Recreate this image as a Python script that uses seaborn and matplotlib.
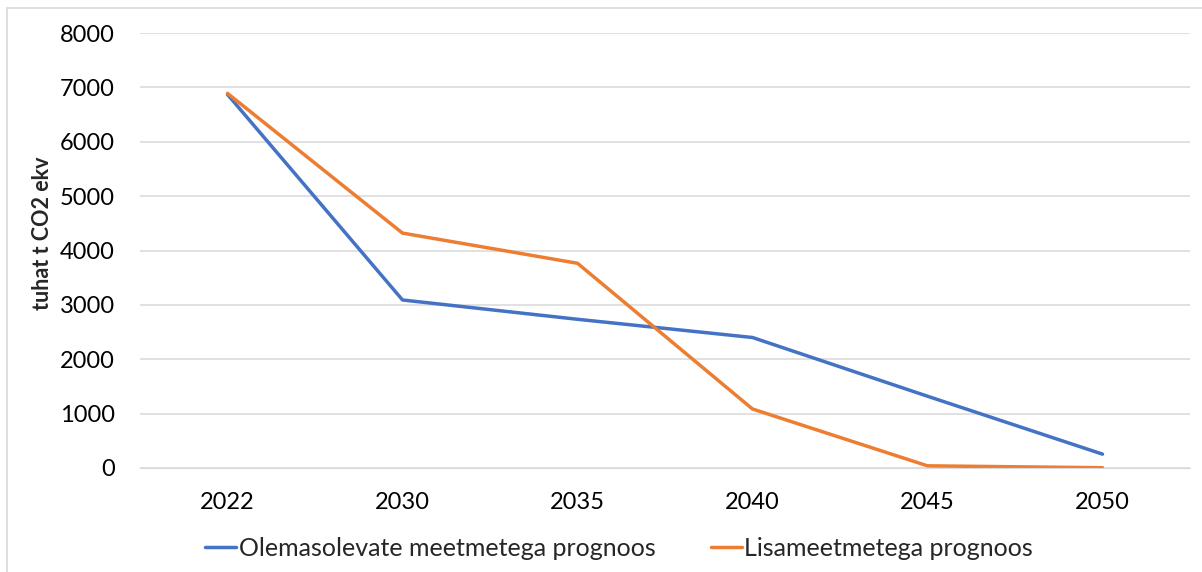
import numpy as np
import pandas as pd
import matplotlib
matplotlib.use('Agg')
import matplotlib.pyplot as plt
import seaborn as sns
from matplotlib.lines import Line2D

## DATA
years = ['2022', '2030', '2035', '2040', '2045', '2050']
olemasolevad = [6870, 3090, 2735, 2400, 1320, 255]   # existing measures
lisameetmed = [6890, 4320, 3765, 1085, 40, 5]         # additional measures
series_names = ['Olemasolevate meetmetega prognoos', 'Lisameetmetega prognoos']
y_ticks = [0, 1000, 2000, 3000, 4000, 5000, 6000, 7000, 8000]
y_label = 'tuhat t CO2 ekv'

colors = ['#4472C4', '#ED7D31']

df = pd.DataFrame({
    'year': years * 2,
    'value': olemasolevad + lisameetmed,
    'series': [series_names[0]] * len(years) + [series_names[1]] * len(years),
})

sns.set_style('white')
plt.rcParams['font.family'] = ['Lato', 'DejaVu Sans']

fig = plt.figure(figsize=(12.02, 5.72), dpi=100)
ax = fig.add_axes([140 / 1202, 1 - 468 / 572, 1050 / 1202, 435 / 572])

sns.lineplot(data=df, x='year', y='value', hue='series', palette=colors,
             sort=False, linewidth=2.5, ax=ax, legend=False)

ax.set_xlim(-0.5, 5.5)
ax.set_ylim(0, 8000)
ax.set_yticks(y_ticks)
ax.set_yticklabels([str(v) for v in y_ticks])
ax.yaxis.grid(True, color='#D9D9D9', linewidth=1.1)
ax.set_axisbelow(True)
for s in ax.spines.values():
    s.set_visible(False)
ax.spines['bottom'].set_visible(True)
ax.spines['bottom'].set_color('#D9D9D9')
ax.tick_params(axis='both', length=0, labelsize=17, colors='#000000')
ax.tick_params(axis='y', pad=18)
ax.tick_params(axis='x', pad=17)
ax.set_xlabel('')
ax.set_ylabel('')

fig.text(43 / 1202, 1 - 233 / 572, y_label, rotation=90, ha='center', va='center',
         fontsize=15.5, fontweight='bold')

handles = [Line2D([], [], color=c, linewidth=2.5) for c in colors]
fig.legend(handles, series_names, loc='center', bbox_to_anchor=(619 / 1202, 1 - 548 / 572),
           ncol=2, frameon=False, fontsize=18, handlelength=1.25,
           handletextpad=0.1, columnspacing=2.2)

# outer chart border (top and left edges visible)
fig.add_artist(Line2D([7 / 1202, 7 / 1202], [0, 1 - 8 / 572], transform=fig.transFigure,
                      color='#D9D9D9', linewidth=1.2))
fig.add_artist(Line2D([7 / 1202, 1], [1 - 8 / 572, 1 - 8 / 572], transform=fig.transFigure,
                      color='#D9D9D9', linewidth=1.2))

fig.savefig('out.png', dpi=100)
